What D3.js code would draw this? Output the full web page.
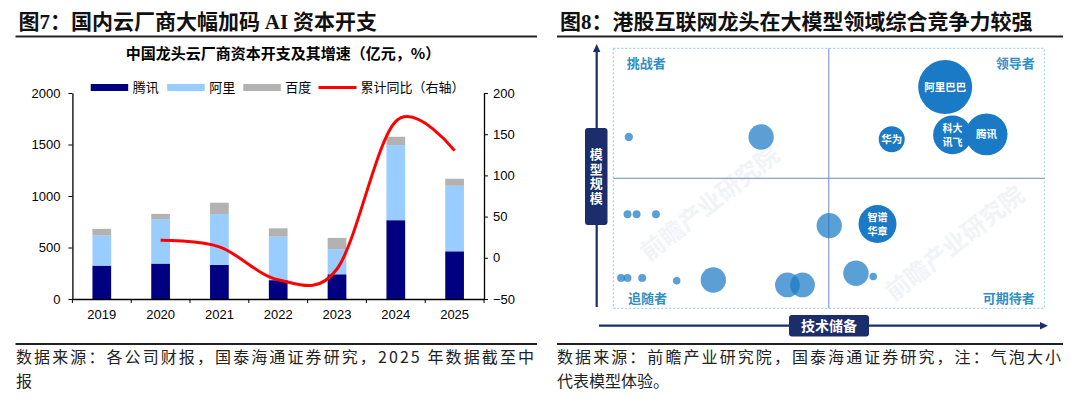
<!DOCTYPE html>
<html>
<head>
<meta charset="utf-8">
<title>capex</title>
<script src="https://cdn.jsdelivr.net/npm/d3@7"></script>
<style>
  body { margin: 0; background: #fff; }
  svg { display: block; }
</style>
</head>
<body>
<script>
// ---- left chart data (亿元, %) ----
const years = ["2019", "2020", "2021", "2022", "2023", "2024", "2025"];
const tencent = [324, 344, 332, 183, 240, 765, 463];
const alibaba = [292, 431, 493, 422, 243, 729, 636];
const baidu = [65, 51, 110, 81, 110, 81, 68];
const yoyYears = ["2020", "2021", "2022", "2023", "2024", "2025"];
const yoy = [21.3, 13.2, -26.6, -13.6, 165.6, 130];
const leftTicks = [0, 500, 1000, 1500, 2000];
const rightTicks = [-50, 0, 50, 100, 150, 200];

// ---- right chart data (0-100 grid) ----
const bubbleNames = ["阿里巴巴", "科大讯飞", "腾讯", "华为", "智谱华章", "", "", "", "", "", "", "", "", "", "", "", "", "", "", ""];
const bubbleX = [77, 78.7, 86.6, 64.6, 61.3, 34.3, 3.6, 3.3, 5.4, 9.9, 50.1, 56.3, 60.3, 23.2, 14.7, 6.7, 1.8, 3.3, 40.4, 43.9];
const bubbleY = [85.1, 66.7, 66.9, 65, 32.4, 65.9, 65.9, 36.2, 36.2, 36.2, 31.8, 13.5, 12.2, 10.9, 10.6, 11.7, 11.7, 11.7, 9, 9];
const bubbleSize = [93, 48, 56, 21.5, 46, 20.5, 2.2, 2, 2, 2, 20.5, 20.5, 1.8, 20.5, 1.8, 2, 2, 2, 19.5, 19.5];
const leaders = [true, true, true, true, true, false, false, false, false, false, false, false, false, false, false, false, false, false, false, false];

const cjk = "'Noto Sans CJK SC', sans-serif";
const svg = d3.select("body").append("svg").attr("width", 1080).attr("height", 398);
svg.append("rect").attr("width", 1080).attr("height", 398).attr("fill", "#fff");

// headers + footers
function header(x0, x1, parts) {
    let t = svg.append("text").attr("x", x0 + 3).attr("y", 29)
        .attr("font-size", 21).attr("font-weight", 700).attr("font-family", cjk).attr("fill", "#111");
    parts.forEach(p => t.append("tspan").text(p[0]).attr("font-family", p[1] ? "'Liberation Serif', serif" : cjk));
    svg.append("line").attr("x1", x0).attr("x2", x1).attr("y1", 36.5).attr("y2", 36.5)
        .attr("stroke", "#222").attr("stroke-width", 2);
    svg.append("line").attr("x1", x0).attr("x2", x1).attr("y1", 344).attr("y2", 344)
        .attr("stroke", "#222").attr("stroke-width", 2);
}
header(15.5, 537, [["图"], ["7", true], ["：国内云厂商大幅加码 "], ["AI", true], [" 资本开支"]]);
header(557, 1063, [["图"], ["8", true], ["：港股互联网龙头在大模型领域综合竞争力较强"]]);

function footer(x, lines, w) {
    lines.forEach((s, i) => {
        let t = svg.append("text").attr("x", x).attr("y", 363 + i * 24).text(s)
            .attr("font-size", 16).attr("font-family", cjk).attr("fill", "#222");
        if (i == 0) t.attr("textLength", w).attr("lengthAdjust", "spacing");
    });
}
footer(16, ["数据来源：各公司财报，国泰海通证券研究，2025 年数据截至中", "报"], 518);
footer(557, ["数据来源：前瞻产业研究院，国泰海通证券研究，注：气泡大小", "代表模型体验。"], 504);

// ---------------- left chart ----------------
const x = d3.scaleBand().domain(years).range([72.4, 484]);
const y = d3.scaleLinear().domain([0, 2000]).range([299, 93]);
const yR = d3.scaleLinear().domain([-50, 200]).range([299, 93]);
const bw = 18.7;

svg.append("text").attr("x", 283).attr("y", 59).attr("text-anchor", "middle")
    .attr("font-size", 15).attr("font-weight", 700).attr("font-family", cjk)
    .text("中国龙头云厂商资本开支及其增速（亿元，%）");

const stack = d3.stack().keys(["t", "a", "b"])(years.map((d, i) => ({year: d, t: tencent[i], a: alibaba[i], b: baidu[i]})));
const colors = {t: "#000080", a: "#99ccff", b: "#b2b2b2"};
svg.append("g").selectAll("g").data(stack).enter().append("g")
    .attr("fill", d => colors[d.key])
    .selectAll("rect").data(d => d).enter().append("rect")
    .attr("x", d => x(d.data.year) + x.bandwidth() / 2 - bw / 2)
    .attr("width", bw)
    .attr("y", d => y(d[1]))
    .attr("height", d => y(d[0]) - y(d[1]));

const line = d3.line()
    .x((d, i) => x(yoyYears[i]) + x.bandwidth() / 2)
    .y(d => yR(d))
    .curve(d3.curveCardinal.tension(0));
svg.append("path").datum(yoy).attr("d", line).attr("fill", "none")
    .attr("stroke", "#ff0000").attr("stroke-width", 3);

const axL = svg.append("g").attr("transform", "translate(72.4,0)")
    .call(d3.axisLeft(y).tickValues(leftTicks).tickFormat(d3.format("d")).tickSize(4).tickSizeOuter(0).tickPadding(8));
const axR = svg.append("g").attr("transform", "translate(484,0)")
    .call(d3.axisRight(yR).tickValues(rightTicks).tickFormat(d3.format("d")).tickSize(4).tickSizeOuter(0).tickPadding(5));
const axB = svg.append("g").attr("transform", "translate(0,299)")
    .call(d3.axisBottom(x).tickSize(0).tickPadding(11));
axB.selectAll(".tick").append("line")
    .attr("x1", -x.bandwidth() / 2).attr("x2", -x.bandwidth() / 2).attr("y2", 4).attr("stroke", "#000");
axB.append("line").attr("x1", x.range()[1]).attr("x2", x.range()[1]).attr("y2", 4).attr("stroke", "#000");
[axL, axR, axB].forEach(g => {
    g.selectAll("text").attr("font-size", 13).attr("font-family", "'Liberation Sans', Arial").attr("fill", "#000");
    g.select(".domain").attr("stroke", "#000").attr("stroke-width", 1.3);
});

// legend
const legend = [["腾讯", 90.7, "#000080"], ["阿里", 167.2, "#99ccff"], ["百度", 243.3, "#b2b2b2"], ["累计同比（右轴）", 318.5, "#ff0000"]];
legend.forEach((l, i) => {
    if (i < 3) svg.append("rect").attr("x", l[1]).attr("y", 84).attr("width", 37.5).attr("height", 7).attr("fill", l[2]);
    else svg.append("line").attr("x1", l[1]).attr("x2", l[1] + 38).attr("y1", 87.5).attr("y2", 87.5)
        .attr("stroke", l[2]).attr("stroke-width", 3);
    svg.append("text").attr("x", l[1] + 42).attr("y", 92).attr("font-size", 13)
        .attr("font-family", cjk).text(l[0]);
});

// ---------------- right chart ----------------
const bx = d3.scaleLinear().domain([0, 100]).range([613.3, 1044.3]);
const by = d3.scaleLinear().domain([0, 100]).range([308.3, 48.3]);
const br = d3.scaleSqrt().domain([0, 100]).range([0, 28]);
const navy = "#1b2d6b";
const right = svg.append("g");

// faint watermark
[[715, 210], [960, 250]].forEach(p => {
    right.append("text").attr("transform", `translate(${p[0]},${p[1]}) rotate(-38)`)
        .attr("text-anchor", "middle").attr("font-size", 24).attr("font-weight", 700)
        .attr("font-family", cjk).attr("fill", "#e9edf2").attr("opacity", 0.6).text("前瞻产业研究院");
});

right.append("rect").attr("x", bx(0)).attr("y", by(100)).attr("width", bx(100) - bx(0)).attr("height", by(0) - by(100))
    .attr("fill", "none").attr("stroke", "#93c4e4").attr("stroke-width", 1).attr("stroke-dasharray", "2,2");
right.append("line").attr("x1", bx(50)).attr("x2", bx(50)).attr("y1", by(100)).attr("y2", by(0))
    .attr("stroke", "#6f8cc0").attr("stroke-width", 1);
right.append("line").attr("x1", bx(0)).attr("x2", bx(100)).attr("y1", by(50)).attr("y2", by(50))
    .attr("stroke", "#6f8cc0").attr("stroke-width", 1);

const quad = [["挑战者", 3.1, 94.3, "start"], ["领导者", 97.8, 94.3, "end"], ["追随者", 3.4, 3.8, "start"], ["可期待者", 97.8, 4, "end"]];
quad.forEach(q => right.append("text").attr("x", bx(q[1])).attr("y", by(q[2]) + 5)
    .attr("text-anchor", q[3]).attr("font-size", 13).attr("font-weight", 700)
    .attr("font-family", cjk).attr("fill", "#2f8fc4").text(q[0]));

const bubbles = bubbleX.map((d, i) => ({x: d, y: bubbleY[i], s: bubbleSize[i], name: bubbleNames[i], lead: leaders[i]}));
right.selectAll("circle").data(bubbles).enter().append("circle")
    .attr("cx", d => bx(d.x)).attr("cy", d => by(d.y)).attr("r", d => br(d.s))
    .attr("fill", "#1a7ac6").attr("fill-opacity", d => d.lead ? 1 : 0.72);

// bubble names, two-line ones as one text with tspans
bubbles.filter(d => d.name).forEach(d => {
    const lines = d.name.length == 4 && d.name != "阿里巴巴" ? [d.name.slice(0, 2), d.name.slice(2)] : [d.name];
    const t = right.append("text").attr("text-anchor", "middle").attr("font-size", lines.length > 1 ? 10 : 10.5)
        .attr("font-weight", 700).attr("font-family", cjk).attr("fill", "#fff");
    lines.forEach((s, j) => t.append("tspan").attr("x", bx(d.x))
        .attr("y", by(d.y) + 4 + (j - (lines.length - 1) / 2) * 13.5).text(s));
});

// axes arrows
right.append("line").attr("x1", 596.7).attr("x2", 596.7).attr("y1", 307).attr("y2", 50).attr("stroke", navy).attr("stroke-width", 2.2);
right.append("path").attr("d", "M596.7,44 L593,52 L600.4,52 Z").attr("fill", navy);
right.append("line").attr("x1", 599).attr("x2", 1042).attr("y1", 325.7).attr("y2", 325.7).attr("stroke", navy).attr("stroke-width", 2.2);
right.append("path").attr("d", "M1048,325.7 L1040,322 L1040,329.4 Z").attr("fill", navy);

right.append("rect").attr("x", 585).attr("y", 128).attr("width", 22.5).attr("height", 97).attr("rx", 3).attr("fill", navy);
right.append("text").attr("x", 596.2).attr("y", 148).attr("writing-mode", "vertical-rl")
    .attr("font-size", 13).attr("font-weight", 700).attr("letter-spacing", 1.4)
    .attr("font-family", cjk).attr("fill", "#fff").text("模型规模");
right.append("rect").attr("x", 789).attr("y", 315).attr("width", 80).attr("height", 21.5).attr("rx", 3).attr("fill", navy);
right.append("text").attr("x", 829).attr("y", 331).attr("text-anchor", "middle").attr("font-size", 14)
    .attr("font-weight", 700).attr("font-family", cjk).attr("fill", "#fff").text("技术储备");
</script>
</body>
</html>
